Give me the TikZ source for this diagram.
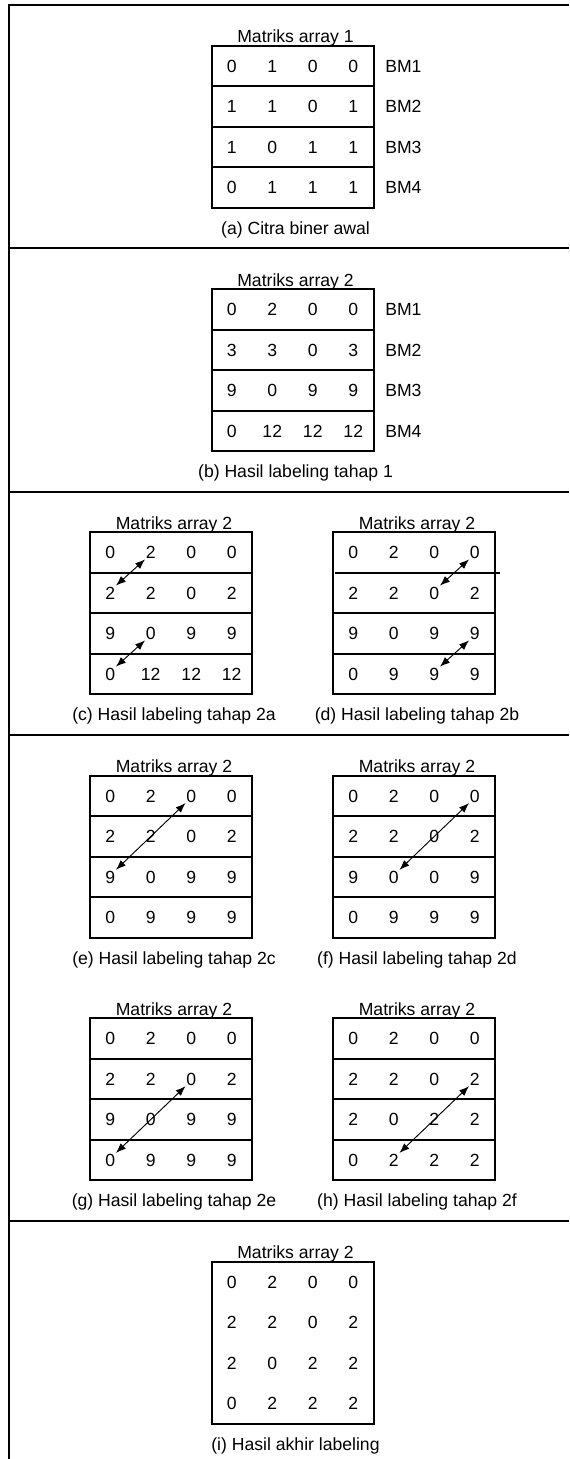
\documentclass[tikz,border=0pt]{standalone}
\usepackage{fontspec}
\setmainfont{Liberation Sans}
\usetikzlibrary{arrows.meta,calc}

\tikzset{
  txt/.style={inner sep=0.4pt, font=\fontsize{13.2}{15}\selectfont},
  cell/.style={txt, text height=9.45pt, text depth=0pt},
  titletext/.style={txt, anchor=base},
  captext/.style={txt, anchor=base},
  bmtext/.style={txt, text height=9.45pt, text depth=0pt, anchor=west},
  boxline/.style={line width=1.5pt},
  frameline/.style={line width=1.6pt},
  link/.style={line width=0.7pt, {Latex[length=7.5pt,width=5.6pt]}-{Latex[length=7.5pt,width=5.6pt]}}
}

% outline of a 4x4 array with its title and caption
\newcommand\matbox[5]{% name, left, top, title, caption
  \draw[boxline] (#2,#3) rectangle ({#2+162},{#3+162});
  \node[titletext] (#1-title) at ({#2+84},{#3-3}) {#4};
  \node[captext] (#1-cap) at ({#2+84},{#3+188.3}) {#5};
}
% the three lines between the rows
\newcommand\rowlines[2]{% left, top
  \foreach \k in {1,2,3}
    \draw[boxline] (#1,{#2+40.5*\k}) -- ({#1+162},{#2+40.5*\k});
}
% the sixteen values, one node per cell
\newcommand\gridvals[4]{% name, left, top, rows
  \foreach \rowv [count=\ri] in {#4} {
    \foreach \v [count=\ci] in \rowv {
      \node[cell] (#1-\ri-\ci) at ({#2+40.5*\ci-20.25},{#3+40.5*\ri-20.25}) {\v};
    }
  }
}
% row labels BM1..BM4 to the right of an array
\newcommand\bmlabels[3]{% name, left, top
  \foreach \k in {1,2,3,4}
    \node[bmtext] (#1-bm\k) at ({#2+173},{#3+40.5*\k-20.25}) {BM\k};
}

\begin{document}
\begin{tikzpicture}[x=0.75pt,y=-0.75pt]
\useasboundingbox (0,0) rectangle (569,1459);

% outer frame and section separators
\draw[frameline] (569,5) -- (9,5) -- (9,1459);
\foreach \s in {248.3,491.7,735,1220.7}
  \draw[frameline] (9,\s) -- (569,\s);

% (a) binary input
\matbox{a}{211.5}{45.7}{Matriks array 1}{(a) Citra biner awal}
\rowlines{211.5}{45.7}
\gridvals{a}{211.5}{45.7}{{0,1,0,0},{1,1,0,1},{1,0,1,1},{0,1,1,1}}
\bmlabels{a}{211.5}{45.7}

% (b) first labelling pass
\matbox{b}{211.5}{289}{Matriks array 2}{(b) Hasil labeling tahap 1}
\rowlines{211.5}{289}
\gridvals{b}{211.5}{289}{{0,2,0,0},{3,3,0,3},{9,0,9,9},{0,12,12,12}}
\bmlabels{b}{211.5}{289}

% (c) pass 2a
\matbox{c}{90}{532}{Matriks array 2}{(c) Hasil labeling tahap 2a}
\rowlines{90}{532}
\gridvals{c}{90}{532}{{0,2,0,0},{2,2,0,2},{9,0,9,9},{0,12,12,12}}
\draw[link] (c-1-2.south west) -- (c-2-1.north east);
\draw[link] (c-3-2.south west) -- (c-4-1.north east);

% (d) pass 2b
\matbox{d}{333}{532}{Matriks array 2}{(d) Hasil labeling tahap 2b}
\draw[boxline] (335,572.5) -- (500,572.5);
\draw[boxline] (333,613) -- (495,613);
\draw[boxline] (333,653.5) -- (495,653.5);
\gridvals{d}{333}{532}{{0,2,0,0},{2,2,0,2},{9,0,9,9},{0,9,9,9}}
\draw[link] (d-1-4.south west) -- (d-2-3.north east);
\draw[link] (d-3-4.south west) -- (d-4-3.north east);

% (e) pass 2c
\matbox{e}{90}{775.7}{Matriks array 2}{(e) Hasil labeling tahap 2c}
\rowlines{90}{775.7}
\gridvals{e}{90}{775.7}{{0,2,0,0},{2,2,0,2},{9,0,9,9},{0,9,9,9}}
\draw[link] (e-1-3.south west) -- (e-3-1.north east);

% (f) pass 2d
\matbox{f}{333}{775.7}{Matriks array 2}{(f) Hasil labeling tahap 2d}
\rowlines{333}{775.7}
\gridvals{f}{333}{775.7}{{0,2,0,0},{2,2,0,2},{9,0,0,9},{0,9,9,9}}
\draw[link] (f-1-4.south west) -- (f-3-2.north east);

% (g) pass 2e
\matbox{g}{90}{1018.3}{Matriks array 2}{(g) Hasil labeling tahap 2e}
\rowlines{90}{1018.3}
\gridvals{g}{90}{1018.3}{{0,2,0,0},{2,2,0,2},{9,0,9,9},{0,9,9,9}}
\draw[link] (g-2-3.south west) -- (g-4-1.north east);

% (h) pass 2f
\matbox{h}{333}{1018.3}{Matriks array 2}{(h) Hasil labeling tahap 2f}
\rowlines{333}{1018.3}
\gridvals{h}{333}{1018.3}{{0,2,0,0},{2,2,0,2},{2,0,2,2},{0,2,2,2}}
\draw[link] (h-2-4.south west) -- (h-4-2.north east);

% (i) final labels, no row lines
\matbox{i}{211.5}{1261.7}{Matriks array 2}{(i) Hasil akhir labeling}
\gridvals{i}{211.5}{1261.7}{{0,2,0,0},{2,2,0,2},{2,0,2,2},{0,2,2,2}}
\end{tikzpicture}
\end{document}
